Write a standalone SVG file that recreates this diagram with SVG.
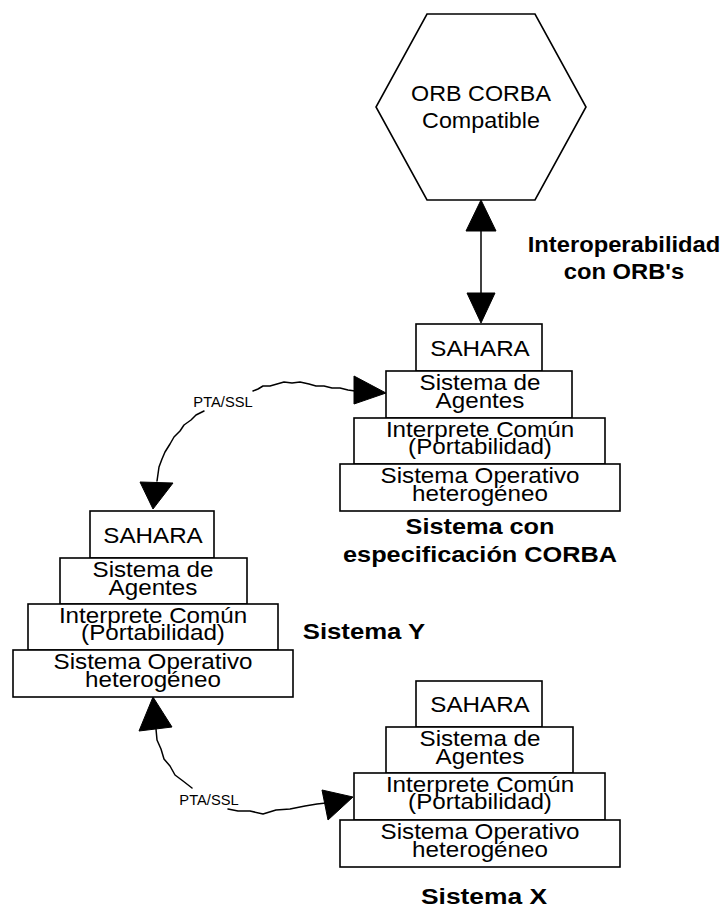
<svg xmlns="http://www.w3.org/2000/svg" width="724" height="909" viewBox="0 0 724 909">
  <style>
    .shape { fill: #fff; stroke: #000; stroke-width: 1.6; }
    .line { fill: none; stroke: #000; stroke-width: 1.5; stroke-linejoin: round; stroke-linecap: round; }
    .head { fill: #000; stroke: #000; stroke-width: 1; stroke-linejoin: miter; }
    text { font-family: "Liberation Sans", Arial, sans-serif; fill: #000; text-anchor: middle; }
    .t { font-size: 22px; }
    .cap { font-size: 22px; font-weight: bold; }
    .lbl { font-size: 14px; }
  </style>

  <rect width="724" height="909" fill="#fff"/>

  <!-- ORB hexagon -->
  <g id="orb">
    <polygon class="shape" points="427,14 535,14 586,107 535,200 427,200 376,107"/>
    <g transform="translate(481 0) scale(1.06 1)">
      <text class="t" y="101">ORB CORBA</text>
      <text class="t" y="128">Compatible</text>
    </g>
  </g>

  <!-- layered stack: system with CORBA specification -->
  <g id="stack-corba">
    <rect class="shape" x="416" y="324" width="126" height="47"/>
    <rect class="shape" x="386" y="371" width="186" height="47"/>
    <rect class="shape" x="354" y="418" width="251" height="46"/>
    <rect class="shape" x="340" y="464" width="280" height="47"/>
    <g transform="translate(480 0) scale(1.1 1)">
      <text class="t" y="356">SAHARA</text>
      <text class="t" y="390">Sistema de</text>
      <text class="t" y="408">Agentes</text>
      <text class="t" y="437">Interprete Común</text>
      <text class="t" y="454">(Portabilidad)</text>
      <text class="t" y="483">Sistema Operativo</text>
      <text class="t" y="501">heterogéneo</text>
    </g>
    <g transform="translate(480 0) scale(1.15 1)">
      <text class="cap" y="534">Sistema con</text>
      <text class="cap" y="562">especificación CORBA</text>
    </g>
  </g>

  <!-- layered stack: Sistema Y -->
  <g id="stack-y">
    <rect class="shape" x="90" y="511" width="124" height="47"/>
    <rect class="shape" x="60" y="558" width="187" height="46"/>
    <rect class="shape" x="28" y="604" width="250" height="46"/>
    <rect class="shape" x="13" y="650" width="280" height="47"/>
    <g transform="translate(153 0) scale(1.1 1)">
      <text class="t" y="543">SAHARA</text>
      <text class="t" y="577">Sistema de</text>
      <text class="t" y="595">Agentes</text>
      <text class="t" y="623">Interprete Común</text>
      <text class="t" y="640">(Portabilidad)</text>
      <text class="t" y="669">Sistema Operativo</text>
      <text class="t" y="687">heterogéneo</text>
    </g>
    <g transform="translate(364 0) scale(1.17 1)">
      <text class="cap" y="639">Sistema Y</text>
    </g>
  </g>

  <!-- layered stack: Sistema X -->
  <g id="stack-x">
    <rect class="shape" x="416" y="681" width="126" height="46"/>
    <rect class="shape" x="386" y="727" width="187" height="46"/>
    <rect class="shape" x="354" y="773" width="251" height="47"/>
    <rect class="shape" x="340" y="820" width="280" height="47"/>
    <g transform="translate(480 0) scale(1.1 1)">
      <text class="t" y="712">SAHARA</text>
      <text class="t" y="746">Sistema de</text>
      <text class="t" y="764">Agentes</text>
      <text class="t" y="792">Interprete Común</text>
      <text class="t" y="809">(Portabilidad)</text>
      <text class="t" y="839">Sistema Operativo</text>
      <text class="t" y="857">heterogéneo</text>
    </g>
    <g transform="translate(484 0) scale(1.2 1)">
      <text class="cap" y="904">Sistema X</text>
    </g>
  </g>

  <!-- connectors -->
  <g id="connectors">
    <!-- ORB <-> CORBA system -->
    <line class="line" x1="481" y1="228" x2="481" y2="296"/>
    <polygon class="head" points="481,200 496,231 466,231"/>
    <polygon class="head" points="481,323 495,293 467,293"/>
    <g transform="translate(624 0) scale(1.08 1)">
      <text class="cap" y="252">Interoperabilidad</text>
      <text class="cap" y="279">con ORB's</text>
    </g>

    <!-- Sistema Y <-> CORBA system -->
    <polyline class="line" points="157,481 158,474 159,467 162,459 165,452 170,444 174,437 180,431 184,425 191,420 196,415 204,411"/>
    <polyline class="line" points="253,391 258,389 263,386 270,386 277,384 284,382 292,383 300,382 309,384 316,386 324,386 332,388 340,388 348,390 355,391"/>
    <polygon class="head" points="140,482 173,483 153,509"/>
    <polygon class="head" points="354,376 354,404 386,393"/>
    <g transform="translate(223 0) scale(1.05 1)">
      <text class="lbl" y="407">PTA/SSL</text>
    </g>

    <!-- Sistema Y <-> Sistema X -->
    <polyline class="line" points="156,729 157,740 161,749 164,759 170,766 175,775 183,781 192,788"/>
    <polyline class="line" points="228,809 238,811 250,811 263,814 276,810 290,809 305,806 317,804 326,803"/>
    <polygon class="head" points="153,697 172,727 139,731"/>
    <polygon class="head" points="322,790 328,820 353,797"/>
    <g transform="translate(209 0) scale(1.05 1)">
      <text class="lbl" y="805">PTA/SSL</text>
    </g>
  </g>
</svg>
